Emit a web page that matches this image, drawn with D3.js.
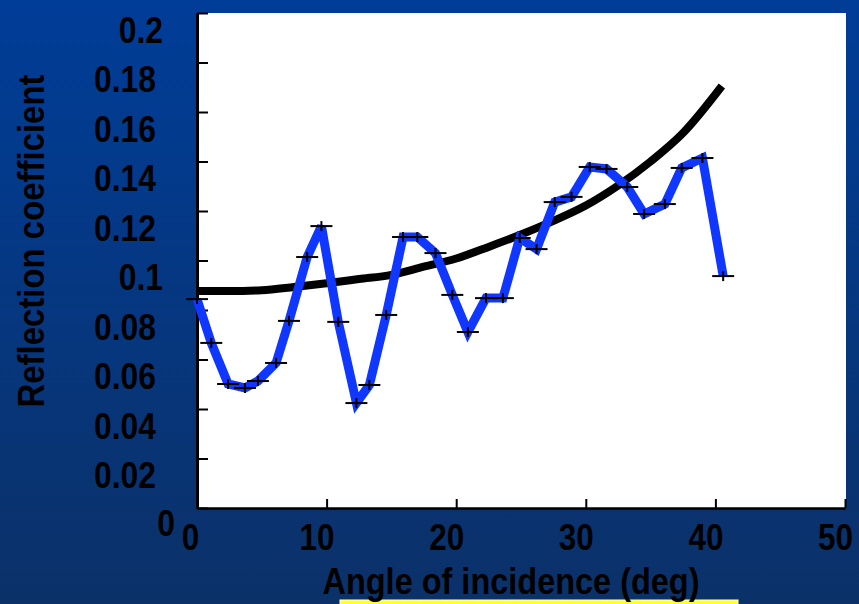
<!DOCTYPE html>
<html>
<head>
<meta charset="utf-8">
<script src="https://cdn.jsdelivr.net/npm/d3@7"></script>
<style>
body { margin: 0; background: #03388a; }
svg { display: block; }
text { font-family: "Liberation Sans Narrow", "Arial Narrow", "Liberation Sans", sans-serif; font-weight: bold; fill: #000; }
</style>
</head>
<body>
<svg></svg>
<script>
var screen = {width: 859, height: 604};
var plot = {left: 197, right: 845, top: 13, bottom: 508};

// measured reflection coefficient (blue, with + markers)
var measAngle = [0, 1.1, 2.4, 3.7, 4.7, 6.1, 7.1, 8.5, 9.6, 10.9, 12.3, 13.3, 14.6, 15.9, 17.0, 18.4,
                 19.7, 20.9, 22.3, 23.6, 24.9, 26.2, 27.6, 28.9, 30.3, 31.6, 33.2, 34.5, 36.1, 37.4, 39.0, 40.6];
var measRefl = [0.0844, 0.0667, 0.0501, 0.0485, 0.0513, 0.0586, 0.0756, 0.1014, 0.1139, 0.0752, 0.0424, 0.0497,
                0.0780, 0.1095, 0.1095, 0.1030, 0.0861, 0.0711, 0.0848, 0.0848, 0.1091, 0.1046, 0.1236, 0.1257,
                0.1378, 0.1370, 0.1297, 0.1188, 0.1228, 0.1374, 0.1414, 0.0937];

// theoretical curve (black)
var theoryAngle = [0, 2.5, 5, 7.5, 10, 12.5, 15, 17.5, 20, 22.5, 25, 27.5, 30, 32.5, 35, 37.5, 40.5];
var theoryRefl = [0.0877, 0.0877, 0.0880, 0.0893, 0.0908, 0.0925, 0.0942, 0.0975, 0.1008, 0.1055, 0.1105,
                  0.1160, 0.1222, 0.1303, 0.1400, 0.1515, 0.1705];

var xTicks = [0, 10, 20, 30, 40, 50];
var yTicks = [0, 0.02, 0.04, 0.06, 0.08, 0.1, 0.12, 0.14, 0.16, 0.18, 0.2];
var yTickLabels = ["0", "0.02", "0.04", "0.06", "0.08", "0.1", "0.12", "0.14", "0.16", "0.18", "0.2"];

var svg = d3.select("svg").attr("width", screen.width).attr("height", screen.height);

var grad = svg.append("defs").append("linearGradient")
    .attr("id", "bg").attr("x1", 0).attr("y1", 0).attr("x2", 0).attr("y2", 1);
grad.append("stop").attr("offset", "0%").attr("stop-color", "#003d98");
grad.append("stop").attr("offset", "100%").attr("stop-color", "#0b3168");

svg.append("rect").attr("width", screen.width).attr("height", screen.height).attr("fill", "url(#bg)");

// yellow box under the x title
svg.append("rect")
    .attr("x", 340).attr("y", 600).attr("width", 398).attr("height", 10)
    .attr("fill", "#ffff33").attr("stroke", "#ffffcc").attr("stroke-width", 1);

var xScale = d3.scaleLinear().domain([0, 50]).range([plot.left, plot.right]);
var yScale = d3.scaleLinear().domain([0, 0.2]).range([plot.bottom, plot.top]);

svg.append("rect")
    .attr("x", plot.left).attr("y", plot.top)
    .attr("width", 846 - plot.left).attr("height", plot.bottom - plot.top)
    .attr("fill", "#fff");

// squeeze a label so it looks like the narrow bold face
var narrow = function(sel, k)
{
    sel.each(function(){
        var w = this.getComputedTextLength();
        d3.select(this).attr("textLength", w * k).attr("lengthAdjust", "spacingAndGlyphs");
    });
}

// axes
var xAxis = d3.axisBottom(xScale).tickValues(xTicks).tickSizeInner(-9).tickSizeOuter(0);
var yAxis = d3.axisLeft(yScale).tickValues(yTicks).tickSizeInner(-11).tickSizeOuter(0)
    .tickFormat(function(d, i){ return yTickLabels[i]; });

var gx = svg.append("g").attr("transform", "translate(0," + plot.bottom + ")").call(xAxis);
gx.select(".domain").attr("stroke", "#000").attr("stroke-width", 2.5);
gx.selectAll(".tick line").attr("stroke", "#000").attr("stroke-width", 2);
gx.selectAll(".tick text")
    .attr("font-size", 37).attr("font-family", null)
    .attr("x", function(d){ return d == 0 ? -7 : -10; }).attr("y", 42).attr("dy", 0)
    .call(narrow, 0.85);

var gy = svg.append("g").attr("transform", "translate(" + plot.left + ",0)").call(yAxis);
gy.select(".domain").attr("stroke", "#000").attr("stroke-width", 3);
gy.selectAll(".tick line").attr("stroke", "#000").attr("stroke-width", 2);
gy.selectAll(".tick text")
    .attr("font-size", 37).attr("font-family", null)
    .attr("x", function(d, i){
        var s = yTickLabels[i];
        if (s == "0") return -22;
        if (s.length == 3) return -34;
        return -41;
    })
    .attr("y", function(d, i){ return yTickLabels[i] == "0" ? 27 : 29; })
    .attr("dy", 0)
    .call(narrow, 0.86);

// theory curve
var line = d3.line().x(function(d){ return xScale(d[0]); }).y(function(d){ return yScale(d[1]); });

svg.append("path")
    .datum(d3.zip(theoryAngle, theoryRefl))
    .attr("d", line.curve(d3.curveMonotoneX))
    .attr("fill", "none").attr("stroke", "#000").attr("stroke-width", 8);

var meas = d3.zip(measAngle, measRefl);
svg.append("path")
    .datum(meas)
    .attr("d", line.curve(d3.curveLinear))
    .attr("fill", "none").attr("stroke", "#0f37ff").attr("stroke-width", 9)
    .attr("stroke-linejoin", "miter").attr("stroke-miterlimit", 2.5);

var marks = svg.append("g").attr("stroke", "#000").attr("stroke-width", 2);
marks.selectAll("line.h").data(meas).enter().append("line").attr("class", "h")
    .attr("x1", function(d){ return xScale(d[0]) - 11; })
    .attr("x2", function(d){ return xScale(d[0]) + 11; })
    .attr("y1", function(d){ return yScale(d[1]); })
    .attr("y2", function(d){ return yScale(d[1]); });
marks.selectAll("line.v").data(meas).enter().append("line").attr("class", "v")
    .attr("x1", function(d){ return xScale(d[0]); })
    .attr("x2", function(d){ return xScale(d[0]); })
    .attr("y1", function(d){ return yScale(d[1]) - 5; })
    .attr("y2", function(d){ return yScale(d[1]) + 5; });

// titles
svg.append("text")
    .attr("transform", "translate(44,241) rotate(-90)")
    .attr("text-anchor", "middle").attr("font-size", 36)
    .attr("textLength", 333).attr("lengthAdjust", "spacingAndGlyphs")
    .text("Reflection coefficient");

svg.append("text")
    .attr("x", 511).attr("y", 594)
    .attr("text-anchor", "middle").attr("font-size", 36)
    .attr("textLength", 377).attr("lengthAdjust", "spacingAndGlyphs")
    .text("Angle of incidence (deg)");
</script>
</body>
</html>
